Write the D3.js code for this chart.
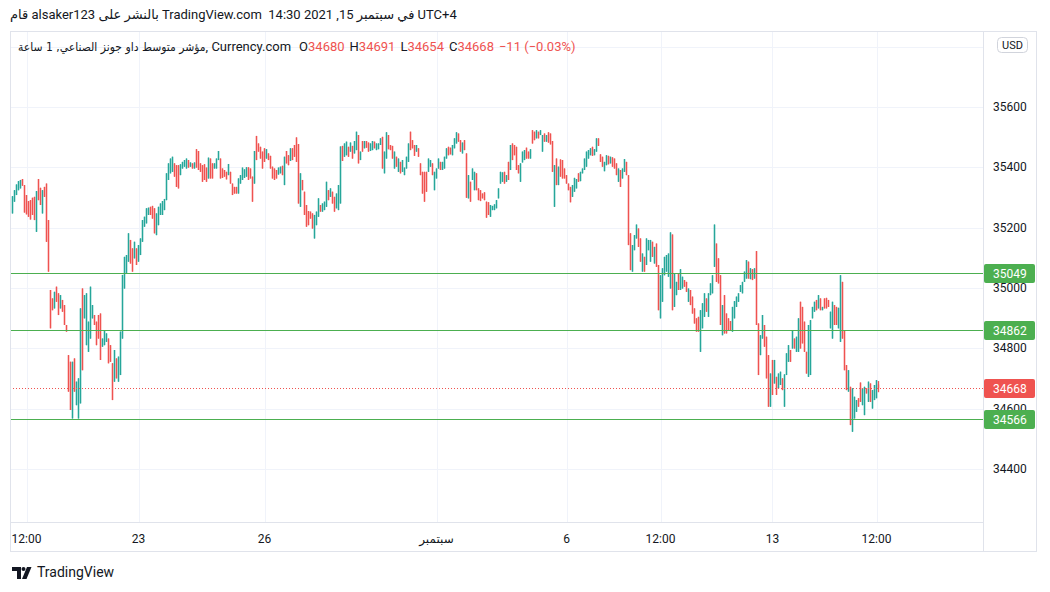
<!DOCTYPE html>
<html lang="en">
<head>
<meta charset="UTF-8">
<title>Dow Jones 1h - Currency.com</title>
<script src="https://d3js.org/d3.v7.min.js"></script>
<style>
    * { margin: 0; padding: 0; box-sizing: border-box; }
    html, body { width: 1050px; height: 592px; background: #fff; overflow: hidden; }
    body { position: relative; font-family: Roboto, "DejaVu Sans", sans-serif; color: #131722; }
    #chart { position: absolute; left: 0; top: 0; }
    .overlay { position: absolute; white-space: pre; direction: ltr; font-size: 13px; }
    #title { left: 10px; top: 7px; }
    #legend { left: 18px; top: 39px; }
    #legend .ar { font-family: "DejaVu Sans Condensed", "DejaVu Sans", sans-serif; font-size: 12px; }
    #legend .v { color: #ef5350; }
    #legend .gap { margin-left: 5px; }
    #footer { left: 37px; top: 564px; font-size: 14px; }
</style>
</head>
<body>
<svg id="chart"></svg>
<script>
// hourly candles, 20 Aug - 15 Sep 2021
const opens = [
  35247,35286,35308,35324,35330,35361,35341,35308,35288,35291,
  35299,35302,35186,35361,35332,35247,35335,35346,35225,34993,
  34965,34932,35004,34982,34932,34960,34943,34877,34777,34755,
  34567,34766,34611,34567,34617,34998,34899,34810,34788,34832,
  34899,34910,34888,34910,34915,34805,34810,34821,34832,34810,
  34750,34689,34766,34689,34711,34832,34998,35048,35087,35159,
  35131,35098,35131,35087,35109,35153,35203,35214,35242,35269,
  35272,35264,35175,35208,35242,35242,35258,35291,35358,35380,
  35385,35413,35407,35407,35374,35396,35402,35396,35424,35402,
  35413,35396,35460,35454,35413,35407,35410,35399,35363,35429,
  35413,35396,35396,35424,35429,35396,35391,35385,35374,35385,
  35346,35335,35335,35313,35346,35358,35365,35369,35400,35396,
  35369,35346,35504,35479,35468,35452,35463,35429,35446,35438,
  35402,35396,35391,35376,35380,35405,35341,35454,35440,35421,
  35463,35474,35499,35477,35269,35358,35319,35275,35255,35253,
  35247,35164,35208,35236,35275,35253,35258,35269,35324,35302,
  35319,35302,35264,35258,35280,35471,35435,35440,35468,35452,
  35471,35446,35457,35507,35424,35487,35463,35487,35482,35454,
  35457,35485,35457,35460,35474,35501,35380,35429,35507,35474,
  35471,35396,35435,35385,35418,35385,35374,35396,35418,35518,
  35490,35474,35452,35463,35413,35385,35385,35385,35385,35402,
  35413,35324,35363,35396,35418,35391,35396,35429,35468,35465,
  35440,35463,35479,35512,35490,35446,35490,35446,35297,35352,
  35358,35324,35380,35330,35324,35313,35317,35286,35284,35236,
  35258,35258,35264,35297,35346,35352,35385,35352,35418,35391,
  35479,35474,35468,35407,35352,35416,35424,35465,35452,35429,
  35523,35518,35496,35518,35507,35452,35512,35485,35516,35512,
  35487,35269,35429,35341,35426,35424,35396,35374,35346,35335,
  35302,35319,35330,35380,35354,35380,35391,35402,35429,35440,
  35468,35440,35452,35496,35443,35435,35387,35407,35438,35413,
  35433,35429,35413,35352,35391,35363,35385,35418,35374,35181,
  35054,35125,35164,35197,35164,35054,35103,35076,35125,35087,
  35153,35081,35147,35076,34899,34954,35042,35054,35037,34998,
  35177,34937,34976,35048,34993,34998,35026,35020,34954,34993,
  34971,34932,34899,34904,34788,34866,34904,34965,34904,34976,
  34982,35070,35147,35098,35042,34843,34976,34915,34899,34890,
  34855,34899,34937,34954,34987,34982,35020,35031,35087,35029,
  35062,35031,35122,34882,34777,34832,34877,34838,34777,34606,
  34761,34683,34705,34667,34678,34700,34606,34711,34755,34794,
  34799,34832,34788,34788,34954,34937,34888,34788,34705,34711,
  34899,34921,34960,34932,34965,34926,34965,34967,34960,34866,
  34832,34943,34937,34866,34821,35020,34860,34744,34656,34672,
  34523,34567,34589,34634,34686,34611,34578,34667,34622,34683,
  34600,34628,34634,34680
];
const highs = [
  35304,35324,35343,35354,35358,35361,35341,35308,35288,35291,
  35299,35302,35321,35361,35332,35324,35335,35346,35225,34993,
  34965,34987,35004,34982,34976,34960,34943,34877,34777,34755,
  34755,34766,34689,34700,34932,34998,34976,34982,34888,35004,
  34943,34910,34888,34910,34915,34832,34858,34849,34832,34810,
  34750,34794,34766,34772,34855,35043,35103,35109,35181,35159,
  35131,35153,35131,35142,35164,35225,35236,35264,35266,35269,
  35272,35264,35247,35269,35280,35288,35295,35380,35413,35429,
  35435,35413,35407,35407,35410,35418,35424,35429,35424,35416,
  35413,35416,35460,35454,35413,35407,35410,35399,35432,35429,
  35413,35413,35429,35454,35429,35396,35391,35385,35411,35385,
  35346,35335,35335,35363,35374,35399,35393,35400,35400,35396,
  35369,35454,35504,35479,35468,35452,35463,35460,35446,35438,
  35402,35396,35391,35399,35402,35405,35435,35454,35440,35463,
  35463,35474,35499,35477,35380,35358,35319,35275,35255,35253,
  35247,35242,35253,35297,35275,35280,35286,35352,35324,35330,
  35319,35302,35313,35341,35469,35471,35479,35485,35468,35482,
  35471,35487,35518,35507,35452,35487,35487,35487,35482,35479,
  35487,35485,35479,35479,35496,35501,35452,35516,35507,35474,
  35471,35452,35435,35429,35418,35424,35399,35435,35479,35518,
  35490,35474,35474,35463,35413,35385,35385,35385,35429,35424,
  35413,35385,35396,35429,35418,35418,35435,35463,35468,35465,
  35474,35496,35516,35512,35490,35482,35490,35446,35374,35352,
  35396,35385,35380,35330,35324,35313,35317,35286,35284,35275,
  35272,35277,35291,35330,35385,35383,35385,35374,35418,35474,
  35479,35474,35468,35407,35413,35452,35457,35465,35452,35460,
  35523,35518,35523,35518,35523,35507,35512,35507,35516,35512,
  35487,35407,35429,35402,35426,35424,35396,35374,35346,35335,
  35341,35365,35361,35380,35385,35396,35429,35452,35457,35463,
  35468,35460,35496,35496,35443,35435,35418,35440,35438,35435,
  35433,35429,35413,35396,35391,35396,35427,35418,35374,35181,
  35142,35175,35210,35197,35164,35114,35103,35164,35159,35159,
  35153,35136,35147,35076,35042,35065,35103,35109,35114,35184,
  35177,35048,35020,35048,35062,35037,35026,35020,34998,34993,
  34971,34932,34899,34904,34926,34949,34982,34965,34982,35015,
  35042,35210,35147,35098,35042,34943,34976,34915,34899,34890,
  34937,34956,34971,34982,35009,35020,35054,35092,35087,35065,
  35062,35065,35122,34882,34843,34910,34877,34838,34777,34716,
  34761,34761,34705,34716,34722,34700,34713,34783,34810,34794,
  34860,34832,34838,34899,34954,34937,34888,34788,34877,34893,
  34937,34954,34960,34976,34965,34937,34965,34967,34960,34921,
  34954,34943,34937,34934,35042,35020,34860,34744,34727,34672,
  34667,34639,34628,34634,34686,34667,34672,34667,34689,34683,
  34661,34678,34694,34691
];
const lows = [
  35247,35286,35308,35324,35330,35339,35250,35244,35236,35227,
  35242,35225,35186,35291,35275,35247,35302,35153,35054,34866,
  34926,34932,34954,34910,34932,34921,34877,34855,34656,34595,
  34567,34656,34611,34567,34617,34727,34899,34810,34788,34832,
  34899,34877,34810,34832,34761,34805,34810,34821,34750,34755,
  34628,34689,34700,34689,34711,34832,34998,35048,35087,35081,
  35054,35098,35076,35087,35109,35153,35203,35214,35242,35242,
  35230,35181,35175,35208,35242,35242,35258,35291,35358,35380,
  35385,35369,35335,35330,35374,35396,35402,35396,35399,35402,
  35396,35396,35399,35391,35385,35352,35358,35352,35363,35363,
  35363,35396,35396,35424,35363,35365,35369,35360,35374,35346,
  35308,35313,35313,35313,35346,35358,35365,35369,35358,35363,
  35286,35346,35424,35452,35429,35396,35418,35429,35424,35396,
  35363,35358,35363,35376,35380,35374,35341,35413,35407,35421,
  35424,35435,35418,35280,35269,35324,35242,35203,35208,35230,
  35197,35164,35208,35236,35253,35253,35258,35269,35291,35302,
  35280,35253,35264,35258,35280,35421,35435,35440,35435,35452,
  35429,35446,35457,35413,35424,35452,35463,35465,35452,35454,
  35457,35463,35457,35460,35474,35396,35380,35429,35460,35457,
  35429,35396,35402,35385,35380,35385,35374,35396,35418,35457,
  35463,35438,35452,35435,35374,35313,35286,35319,35385,35402,
  35374,35324,35363,35396,35391,35391,35396,35429,35440,35443,
  35440,35463,35479,35485,35452,35446,35457,35299,35297,35286,
  35358,35324,35324,35291,35288,35297,35291,35233,35242,35236,
  35258,35258,35264,35297,35346,35352,35346,35352,35358,35391,
  35424,35440,35391,35380,35352,35416,35424,35429,35429,35429,
  35479,35490,35496,35496,35507,35452,35485,35485,35482,35476,
  35385,35269,35341,35341,35369,35363,35363,35346,35324,35284,
  35302,35319,35330,35352,35354,35380,35391,35402,35429,35440,
  35438,35440,35452,35471,35418,35402,35387,35407,35410,35413,
  35402,35396,35374,35352,35335,35363,35385,35374,35142,35059,
  35054,35125,35164,35136,35087,35054,35054,35076,35125,35087,
  35103,35081,35070,34926,34899,34954,35042,35054,35037,34998,
  34926,34937,34976,34993,34993,34998,35004,34987,34954,34943,
  34915,34882,34855,34855,34788,34866,34904,34921,34904,34976,
  34982,35070,35020,35015,34877,34843,34849,34849,34860,34860,
  34855,34899,34937,34954,34987,34982,35020,35031,35031,35029,
  35026,35031,34877,34711,34777,34832,34805,34700,34606,34606,
  34645,34683,34645,34667,34678,34661,34606,34711,34755,34755,
  34799,34799,34788,34788,34799,34816,34788,34716,34705,34711,
  34899,34921,34926,34932,34926,34926,34932,34932,34937,34866,
  34832,34877,34877,34866,34821,34832,34727,34661,34656,34545,
  34523,34567,34589,34606,34622,34611,34578,34650,34622,34622,
  34600,34628,34634,34654
];
const closes = [
  35304,35324,35343,35354,35358,35339,35250,35244,35236,35227,
  35242,35225,35321,35291,35275,35324,35302,35153,35054,34866,
  34926,34987,34954,34910,34976,34921,34877,34855,34656,34595,
  34755,34656,34689,34700,34932,34727,34976,34982,34888,35004,
  34943,34877,34810,34832,34761,34832,34858,34849,34750,34755,
  34628,34794,34700,34772,34855,35043,35103,35109,35181,35081,
  35054,35153,35076,35142,35164,35225,35236,35264,35266,35242,
  35230,35181,35247,35269,35280,35288,35295,35380,35413,35429,
  35435,35369,35335,35330,35410,35418,35424,35429,35399,35416,
  35396,35416,35399,35391,35385,35352,35358,35352,35432,35363,
  35363,35413,35429,35454,35363,35365,35369,35360,35411,35346,
  35308,35313,35313,35363,35374,35399,35393,35400,35358,35363,
  35286,35454,35424,35452,35429,35396,35418,35460,35424,35396,
  35363,35358,35363,35399,35402,35374,35435,35413,35407,35463,
  35424,35435,35418,35280,35380,35324,35242,35203,35208,35230,
  35197,35242,35253,35297,35253,35280,35286,35352,35291,35330,
  35280,35253,35313,35341,35469,35421,35479,35485,35435,35482,
  35429,35487,35518,35413,35452,35452,35487,35465,35452,35479,
  35487,35463,35479,35479,35496,35396,35452,35516,35460,35457,
  35429,35452,35402,35429,35380,35424,35399,35435,35479,35457,
  35463,35438,35474,35435,35374,35313,35286,35319,35429,35424,
  35374,35385,35396,35429,35391,35418,35435,35463,35440,35443,
  35474,35496,35516,35485,35452,35482,35457,35299,35374,35286,
  35396,35385,35324,35291,35288,35297,35291,35233,35242,35275,
  35272,35277,35291,35330,35385,35383,35346,35374,35358,35474,
  35424,35440,35391,35380,35413,35452,35457,35429,35429,35460,
  35479,35490,35523,35496,35523,35507,35485,35507,35482,35476,
  35385,35407,35341,35402,35369,35363,35363,35346,35324,35284,
  35341,35365,35361,35352,35385,35396,35429,35452,35457,35463,
  35438,35460,35496,35471,35418,35402,35418,35440,35410,35435,
  35402,35396,35374,35396,35335,35396,35427,35374,35142,35059,
  35142,35175,35210,35136,35087,35114,35054,35164,35159,35159,
  35103,35136,35070,34926,35042,35065,35103,35109,35114,35184,
  34926,35048,35020,34993,35062,35037,35004,34987,34998,34943,
  34915,34882,34855,34855,34926,34949,34982,34921,34982,35015,
  35042,35210,35020,35015,34877,34943,34849,34849,34860,34860,
  34937,34956,34971,34982,35009,35020,35054,35092,35031,35065,
  35026,35065,34877,34711,34843,34910,34805,34700,34606,34716,
  34645,34761,34645,34716,34722,34661,34713,34783,34810,34755,
  34860,34799,34838,34899,34799,34816,34788,34716,34877,34893,
  34937,34954,34926,34976,34926,34937,34932,34932,34937,34921,
  34954,34877,34877,34934,35042,34832,34727,34661,34727,34545,
  34667,34639,34628,34606,34622,34667,34672,34650,34689,34622,
  34661,34678,34694,34668
];

// price axis
const priceTicks = [34400, 34600, 34800, 35000, 35200, 35400, 35600];
const gridPrices = [34400, 34600, 34800, 35000, 35200, 35400, 35600, 35800];

// time axis: candle index where each label sits
const timeTickIdx = [7, 63, 126, 212, 277, 324, 380, 432];
const timeTickLabels = ["12:00", "23", "26", "سبتمبر", "6", "12:00", "13", "12:00"];

// horizontal levels drawn on the chart
const levels = [35049, 34862, 34566];
const lastPrice = 34668;

const upColor = "#26a69a", downColor = "#ef5350", levelColor = "#4caf50";
const W = 1050, H = 592;
const plot = { left: 10, top: 31, right: 983, bottom: 522 };

const svg = d3.select("#chart").attr("width", W).attr("height", H);

const x = d3.scaleLinear().domain([0, closes.length - 1]).range([12.5, 878.5]);
const y = d3.scaleLinear().domain([34400, 35600]).range([468.8, 107]);

// grid
svg.append("g").selectAll("line").data(gridPrices).join("line")
    .attr("x1", plot.left).attr("x2", plot.right)
    .attr("y1", d => Math.round(y(d)) + 0.5).attr("y2", d => Math.round(y(d)) + 0.5)
    .attr("stroke", "#f0f3fa");
svg.append("g").selectAll("line").data(timeTickIdx).join("line")
    .attr("x1", d => Math.round(x(d)) + 0.5).attr("x2", d => Math.round(x(d)) + 0.5)
    .attr("y1", plot.top).attr("y2", plot.bottom)
    .attr("stroke", "#f0f3fa");

// candles: wick line + body, about one pixel wide
const candles = svg.append("g");
const idx = d3.range(closes.length);
const colorOf = i => closes[i] >= opens[i] ? upColor : downColor;
candles.selectAll("line.wick").data(idx).join("line")
    .attr("class", "wick")
    .attr("x1", i => x(i)).attr("x2", i => x(i))
    .attr("y1", i => y(highs[i])).attr("y2", i => y(lows[i]))
    .attr("stroke", colorOf).attr("stroke-width", 1.3);
candles.selectAll("rect.body").data(idx).join("rect")
    .attr("class", "body")
    .attr("x", i => x(i) - 0.65).attr("width", 1.3)
    .attr("y", i => y(Math.max(opens[i], closes[i])))
    .attr("height", i => Math.max(1, Math.abs(y(opens[i]) - y(closes[i]))))
    .attr("fill", colorOf);

// level lines
svg.append("g").selectAll("line").data(levels).join("line")
    .attr("x1", plot.left).attr("x2", plot.right)
    .attr("y1", d => Math.round(y(d)) + 0.5).attr("y2", d => Math.round(y(d)) + 0.5)
    .attr("stroke", levelColor).attr("stroke-width", 1);
svg.append("line")
    .attr("x1", plot.left).attr("x2", plot.right)
    .attr("y1", Math.round(y(lastPrice)) + 0.5).attr("y2", Math.round(y(lastPrice)) + 0.5)
    .attr("stroke", downColor).attr("stroke-dasharray", "1,2");

// frame
const frame = svg.append("g").attr("fill", "none").attr("stroke", "#e0e3eb").attr("shape-rendering", "crispEdges");
frame.append("rect").attr("x", 10.5).attr("y", 31.5).attr("width", 1026).attr("height", 520);
frame.append("line").attr("x1", plot.right + 0.5).attr("x2", plot.right + 0.5).attr("y1", 31).attr("y2", 552);
frame.append("line").attr("x1", 10).attr("x2", plot.right).attr("y1", plot.bottom + 0.5).attr("y2", plot.bottom + 0.5);

// price axis labels
svg.append("g").selectAll("text").data(priceTicks).join("text")
    .attr("x", 993).attr("y", d => y(d))
    .attr("dominant-baseline", "central")
    .attr("font-size", 12).attr("fill", "#131722")
    .text(d => d);

// level / last price tags
const tags = levels.map(v => ({ v, c: levelColor })).concat([{ v: lastPrice, c: downColor }]);
const tag = svg.append("g").selectAll("g").data(tags).join("g")
    .attr("transform", d => `translate(984,${Math.round(y(d.v)) - 9})`);
tag.append("rect").attr("width", 51).attr("height", 19).attr("rx", 2).attr("fill", d => d.c);
tag.append("text").attr("x", 9).attr("y", 10).attr("dominant-baseline", "central")
    .attr("font-size", 12).attr("fill", "#fff").text(d => d.v);

// currency button
const usd = svg.append("g").attr("transform", "translate(997,37)");
usd.append("rect").attr("x", 0.5).attr("y", 0.5).attr("width", 30).attr("height", 15).attr("rx", 4)
    .attr("fill", "#fff").attr("stroke", "#d1d4dc");
usd.append("text").attr("x", 15.5).attr("y", 8.5).attr("text-anchor", "middle")
    .attr("dominant-baseline", "central").attr("font-size", 11).attr("fill", "#131722").text("USD");

// time axis labels
svg.append("g").selectAll("text").data(timeTickIdx).join("text")
    .attr("x", d => x(d)).attr("y", 539)
    .attr("text-anchor", "middle").attr("dominant-baseline", "central")
    .attr("font-size", 12).attr("fill", "#131722")
    .text((d, i) => timeTickLabels[i]);

// footer logo
const logo = svg.append("g").attr("fill", "#131722");
logo.append("path").attr("d", "M12,567H21V579H17V571H12Z");
logo.append("circle").attr("cx", 23.5).attr("cy", 569).attr("r", 2);
logo.append("path").attr("d", "M27,567H31.5L26.5,579H22Z");

// text overlays
const body = d3.select("body");
body.append("div").attr("id", "title").attr("class", "overlay")
    .text("قام alsaker123 بالنشر على TradingView.com  في سبتمبر 15, 2021 14:30 UTC+4");

const legend = body.append("div").attr("id", "legend").attr("class", "overlay");
legend.append("span").attr("class", "ar").text("مؤشر متوسط داو جونز الصناعي, 1 ساعة");
legend.append("span").text(", Currency.com");
const ohlc = [["O", opens], ["H", highs], ["L", lows], ["C", closes]];
const last = closes.length - 1;
ohlc.forEach(([k, arr], j) => {
    const s = legend.append("span").attr("class", "gap");
    if (j === 0) s.style("margin-left", "8px");
    s.append("span").text(k);
    s.append("span").attr("class", "v").text(arr[last]);
});
legend.append("span").attr("class", "gap v").text("−11 (−0.03%)");

body.append("div").attr("id", "footer").attr("class", "overlay").text("TradingView");
</script>
</body>
</html>
